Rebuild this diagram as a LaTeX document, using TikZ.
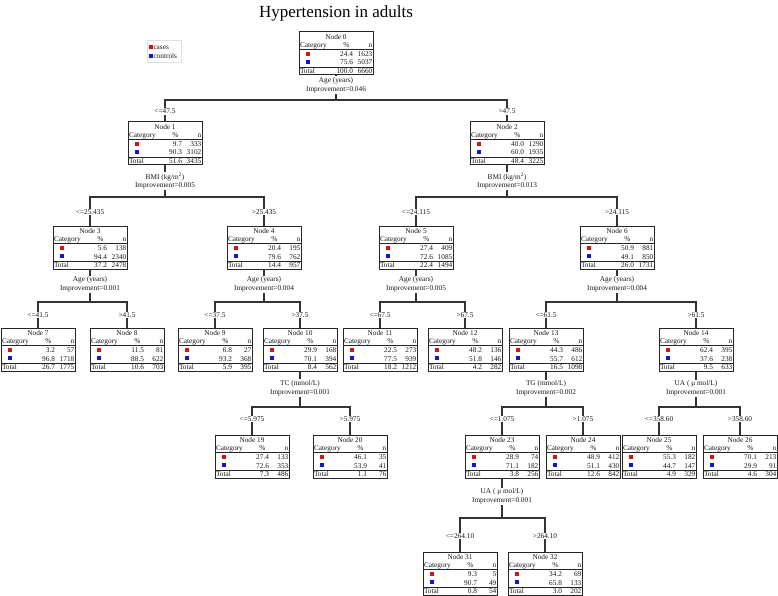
\documentclass[tikz,border=0pt]{standalone}
\usepackage{fontspec}
\setmainfont{Liberation Serif}
\definecolor{cred}{RGB}{215,20,20}
\definecolor{cblue}{RGB}{20,20,215}
\tikzset{
 tbox/.style={draw=black!85, line width=1pt, minimum width=74pt, minimum height=43pt, inner sep=0pt, outer sep=0pt},
 txt/.style={font=\fontsize{7.3}{8}\selectfont, inner sep=0pt, outer sep=0pt, text=black!90},
 conn/.style={draw=black!80, line width=1.1pt},
 slab/.style={fill=white, align=center, inner sep=1pt, font=\fontsize{7.3}{8.6}\selectfont, text=black!90},
 blab/.style={fill=white, inner sep=1pt, font=\fontsize{7.3}{8}\selectfont, text=black!90},
 sqr/.style={fill=cred, inner sep=0pt, minimum size=4pt},
 sqb/.style={fill=cblue, inner sep=0pt, minimum size=4pt},
}
\newcommand\tnode[9]{%
 \node[tbox] (#1) at #2 {};
 \begin{scope}[shift={(#1.north west)}]
  \node[txt,anchor=base] at (37,7.3) {#3};
  \node[txt,anchor=base west] at (1,15.6) {Category};
  \node[txt,anchor=base east] at (50.5,15.6) {\%};
  \node[txt,anchor=base east] at (73.3,15.6) {n};
  \draw[line width=1.2pt,black!85] (0,17.4) -- (74,17.4);
  \node[sqr] at (9,21.6) {};
  \node[txt,anchor=base east] at (54,24.4) {#4};
  \node[txt,anchor=base east] at (73.3,24.4) {#5};
  \node[sqb] at (9,30.2) {};
  \node[txt,anchor=base east] at (54,33) {#6};
  \node[txt,anchor=base east] at (73.3,33) {#7};
  \draw[line width=1.2pt,black!85] (0,35.3) -- (74,35.3);
  \node[txt,anchor=base west] at (1,41.8) {Total};
  \node[txt,anchor=base east] at (54,41.8) {#8};
  \node[txt,anchor=base east] at (73.3,41.8) {#9};
 \end{scope}}
\newcommand\branch[4]{%
 \draw[conn] (#1.south) -- ++(0,#4) -| (#2.north);
 \draw[conn] (#1.south) -- ++(0,#4) -| (#3.north);}
\begin{document}
\begin{tikzpicture}[x=1pt,y=-1pt]
\useasboundingbox (0,0) rectangle (778,596);
\node[font=\fontsize{17}{20}\selectfont, inner sep=0pt] (title) at (336,13.5) {Hypertension in adults};
% legend
\draw[black!12, line width=0.5pt] (147,40) rectangle (181,62);
\node[sqr] (lr) at (150.5,47.5) {};
\node[txt,anchor=west] (lrt) at (153.5,47.5) {cases};
\node[sqb] (lb) at (150.5,56.5) {};
\node[txt,anchor=west] (lbt) at (153.5,56.5) {controls};
% nodes
\tnode{n0}{(336,53.5)}{Node 0}{24.4}{1623}{75.6}{5037}{100.0}{6660}
\tnode{n1}{(165,143.5)}{Node 1}{9.7}{333}{90.3}{3102}{51.6}{3435}
\tnode{n2}{(507,143.5)}{Node 2}{40.0}{1290}{60.0}{1935}{48.4}{3225}
\tnode{n3}{(90,247.5)}{Node 3}{5.6}{138}{94.4}{2340}{37.2}{2478}
\tnode{n4}{(264,247.5)}{Node 4}{20.4}{195}{79.6}{762}{14.4}{957}
\tnode{n5}{(416,247.5)}{Node 5}{27.4}{409}{72.6}{1085}{22.4}{1494}
\tnode{n6}{(617,247.5)}{Node 6}{50.9}{881}{49.1}{850}{26.0}{1731}
\tnode{n7}{(38,349.5)}{Node 7}{3.2}{57}{96.8}{1718}{26.7}{1775}
\tnode{n8}{(127,349.5)}{Node 8}{11.5}{81}{88.5}{622}{10.6}{703}
\tnode{n9}{(215,349.5)}{Node 9}{6.8}{27}{93.2}{368}{5.9}{395}
\tnode{n10}{(300,349.5)}{Node 10}{29.9}{168}{70.1}{394}{8.4}{562}
\tnode{n11}{(380,349.5)}{Node 11}{22.5}{273}{77.5}{939}{18.2}{1212}
\tnode{n12}{(465,349.5)}{Node 12}{48.2}{136}{51.8}{146}{4.2}{282}
\tnode{n13}{(546,349.5)}{Node 13}{44.3}{486}{55.7}{612}{16.5}{1098}
\tnode{n14}{(696,349.5)}{Node 14}{62.4}{395}{37.6}{238}{9.5}{633}
\tnode{n19}{(252,456.5)}{Node 19}{27.4}{133}{72.6}{353}{7.3}{486}
\tnode{n20}{(350,456.5)}{Node 20}{46.1}{35}{53.9}{41}{1.1}{76}
\tnode{n23}{(502,456.5)}{Node 23}{28.9}{74}{71.1}{182}{3.8}{256}
\tnode{n24}{(583,456.5)}{Node 24}{48.9}{412}{51.1}{430}{12.6}{842}
\tnode{n25}{(659,456.5)}{Node 25}{55.3}{182}{44.7}{147}{4.9}{329}
\tnode{n26}{(740,456.5)}{Node 26}{70.1}{213}{29.9}{91}{4.6}{304}
\tnode{n31}{(460,573.5)}{Node 31}{9.3}{5}{90.7}{49}{0.8}{54}
\tnode{n32}{(545,573.5)}{Node 32}{34.2}{69}{65.8}{133}{3.0}{202}
% connectors
\branch{n0}{n1}{n2}{25}
\branch{n1}{n3}{n4}{32}
\branch{n2}{n5}{n6}{32}
\branch{n3}{n7}{n8}{33}
\branch{n4}{n9}{n10}{33}
\branch{n5}{n11}{n12}{33}
\branch{n6}{n13}{n14}{33}
\branch{n10}{n19}{n20}{36}
\branch{n13}{n23}{n24}{36}
\branch{n14}{n25}{n26}{36}
\branch{n23}{n31}{n32}{40}
% split labels
\node[slab] (s0) at (336,85) {Age (years)\\Improvement=0.046};
\node[slab] (s1) at (165,181) {BMI (kg/m\textsuperscript{2})\\Improvement=0.005};
\node[slab] (s2) at (507,181) {BMI (kg/m\textsuperscript{2})\\Improvement=0.013};
\node[slab] (s3) at (90,284.5) {Age (years)\\Improvement=0.001};
\node[slab] (s4) at (264,284.5) {Age (years)\\Improvement=0.004};
\node[slab] (s5) at (416,284.5) {Age (years)\\Improvement=0.005};
\node[slab] (s6) at (617,284.5) {Age (years)\\Improvement=0.004};
\node[slab] (s10) at (300,388) {TC (mmol/L)\\Improvement=0.001};
\node[slab] (s13) at (546,388.5) {TG (mmol/L)\\Improvement=0.002};
\node[slab] (s14) at (696,388.5) {UA ( μ mol/L)\\Improvement=0.001};
\node[slab] (s23) at (502,496.5) {UA ( μ mol/L)\\Improvement=0.001};
% branch labels
\node[blab] (b1) at (165,111.5) {<=47.5};
\node[blab] (b2) at (507,111.5) {>47.5};
\node[blab] (b3) at (90,212) {<=25.435};
\node[blab] (b4) at (264,212) {>25.435};
\node[blab] (b5) at (416,212) {<=24.115};
\node[blab] (b6) at (617,212) {>24.115};
\node[blab] (b7) at (38,315) {<=41.5};
\node[blab] (b8) at (127,315) {>41.5};
\node[blab] (b9) at (215,315) {<=37.5};
\node[blab] (b10) at (300,315) {>37.5};
\node[blab] (b11) at (380,315) {<=67.5};
\node[blab] (b12) at (465,315) {>67.5};
\node[blab] (b13) at (546,315) {<=61.5};
\node[blab] (b14) at (696,315) {>61.5};
\node[blab] (b19) at (252,419) {<=5.975};
\node[blab] (b20) at (350,419) {>5.975};
\node[blab] (b23) at (502,419) {<=1.075};
\node[blab] (b24) at (583,419) {>1.075};
\node[blab] (b25) at (659,419) {<=358.60};
\node[blab] (b26) at (740,419) {>358.60};
\node[blab] (b31) at (460,536) {<=264.10};
\node[blab] (b32) at (545,536) {>264.10};
\end{tikzpicture}
\end{document}
